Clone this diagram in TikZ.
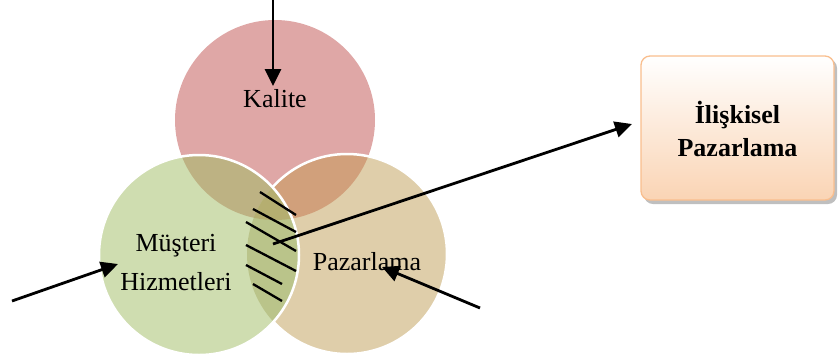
\documentclass[tikz,border=0pt]{standalone}
\usepackage{fontspec}
\setmainfont{Liberation Serif}
\usetikzlibrary{arrows.meta}
\definecolor{cpink}{RGB}{223,167,166}
\definecolor{cgreen}{RGB}{207,221,176}
\definecolor{ctan}{RGB}{223,206,170}
\definecolor{cpg}{RGB}{189,178,131}
\definecolor{cpt}{RGB}{209,160,123}
\definecolor{cgt}{RGB}{186,196,138}
\definecolor{cpgt}{RGB}{181,174,112}
\definecolor{cboxb}{RGB}{249,190,142}
\definecolor{cboxf}{RGB}{250,212,180}
\tikzset{
  lbl/.style={font=\fontsize{26}{39}\selectfont, align=center, inner sep=0pt},
  arr/.style={line width=2.8pt, -{Triangle[length=17pt,width=16pt]}},
  hatch/.style={line width=2.3pt, black},
  wborder/.style={draw=white, line width=2.5pt},
}
\begin{document}
\begin{tikzpicture}[x=1pt,y=-1pt]
\useasboundingbox (0,0) rectangle (839,360);
% circles
\def\rr{100}
\coordinate (ck) at (275,120);
\coordinate (cm) at (199,255);
\coordinate (cp) at (347,254);
\fill[cpink] (ck) circle (\rr);
\fill[ctan] (cp) circle (\rr);
\fill[cgreen] (cm) circle (\rr);
\begin{scope}
  \clip (ck) circle (\rr);
  \fill[cpt] (cp) circle (\rr);
  \fill[cpg] (cm) circle (\rr);
\end{scope}
\begin{scope}
  \clip (cm) circle (\rr);
  \fill[cgt] (cp) circle (\rr);
  \clip (cp) circle (\rr);
  \fill[cpgt] (ck) circle (\rr);
\end{scope}
% white borders
\begin{scope}[even odd rule]
  \clip (0,0) rectangle (839,360) (cm) circle (\rr);
  \draw[wborder] (cp) circle (\rr);
\end{scope}
\draw[wborder] (cm) circle (\rr);
% hatching
\draw[hatch] (260,192) -- (296,215);
\draw[hatch] (253,209) -- (296,232);
\draw[hatch] (246,222) -- (296,251);
\draw[hatch] (246,245) -- (296,271);
\draw[hatch] (246,265) -- (282,284);
\draw[hatch] (253,284) -- (282,301);
% labels
\node[lbl, anchor=base] (kalite) at (275,107) {Kalite};
\node[lbl, anchor=base] (musteri) at (176,290) {Müşteri\\Hizmetleri};
\node[lbl, anchor=base] (pazar) at (367,270) {Pazarlama};
% box
\fill[gray!50, rounded corners=9pt] (644,59) rectangle (837,204);
\shade[top color=white, bottom color=cboxf, rounded corners=9pt, draw=cboxb, line width=1.3pt] (641,56) rectangle (834,200);
\node[font=\fontsize{26}{33}\selectfont\bfseries, align=center, inner sep=0pt, anchor=base] (rel) at (737.5,156) {İlişkisel\\Pazarlama};
\coordinate (relin) at (632,124);
% arrows
\coordinate (t1) at (273,0);
\coordinate (h1) at (273,86);
\coordinate (t2) at (12,301);
\coordinate (h2) at (118,264);
\coordinate (t3) at (480,308);
\coordinate (h3) at (382,267);
\coordinate (t4) at (273,244);
\draw[arr] (t1) -- (h1);
\draw[arr] (t2) -- (h2);
\draw[arr] (t3) -- (h3);
\draw[arr] (t4) -- (relin);
\end{tikzpicture}
\end{document}
